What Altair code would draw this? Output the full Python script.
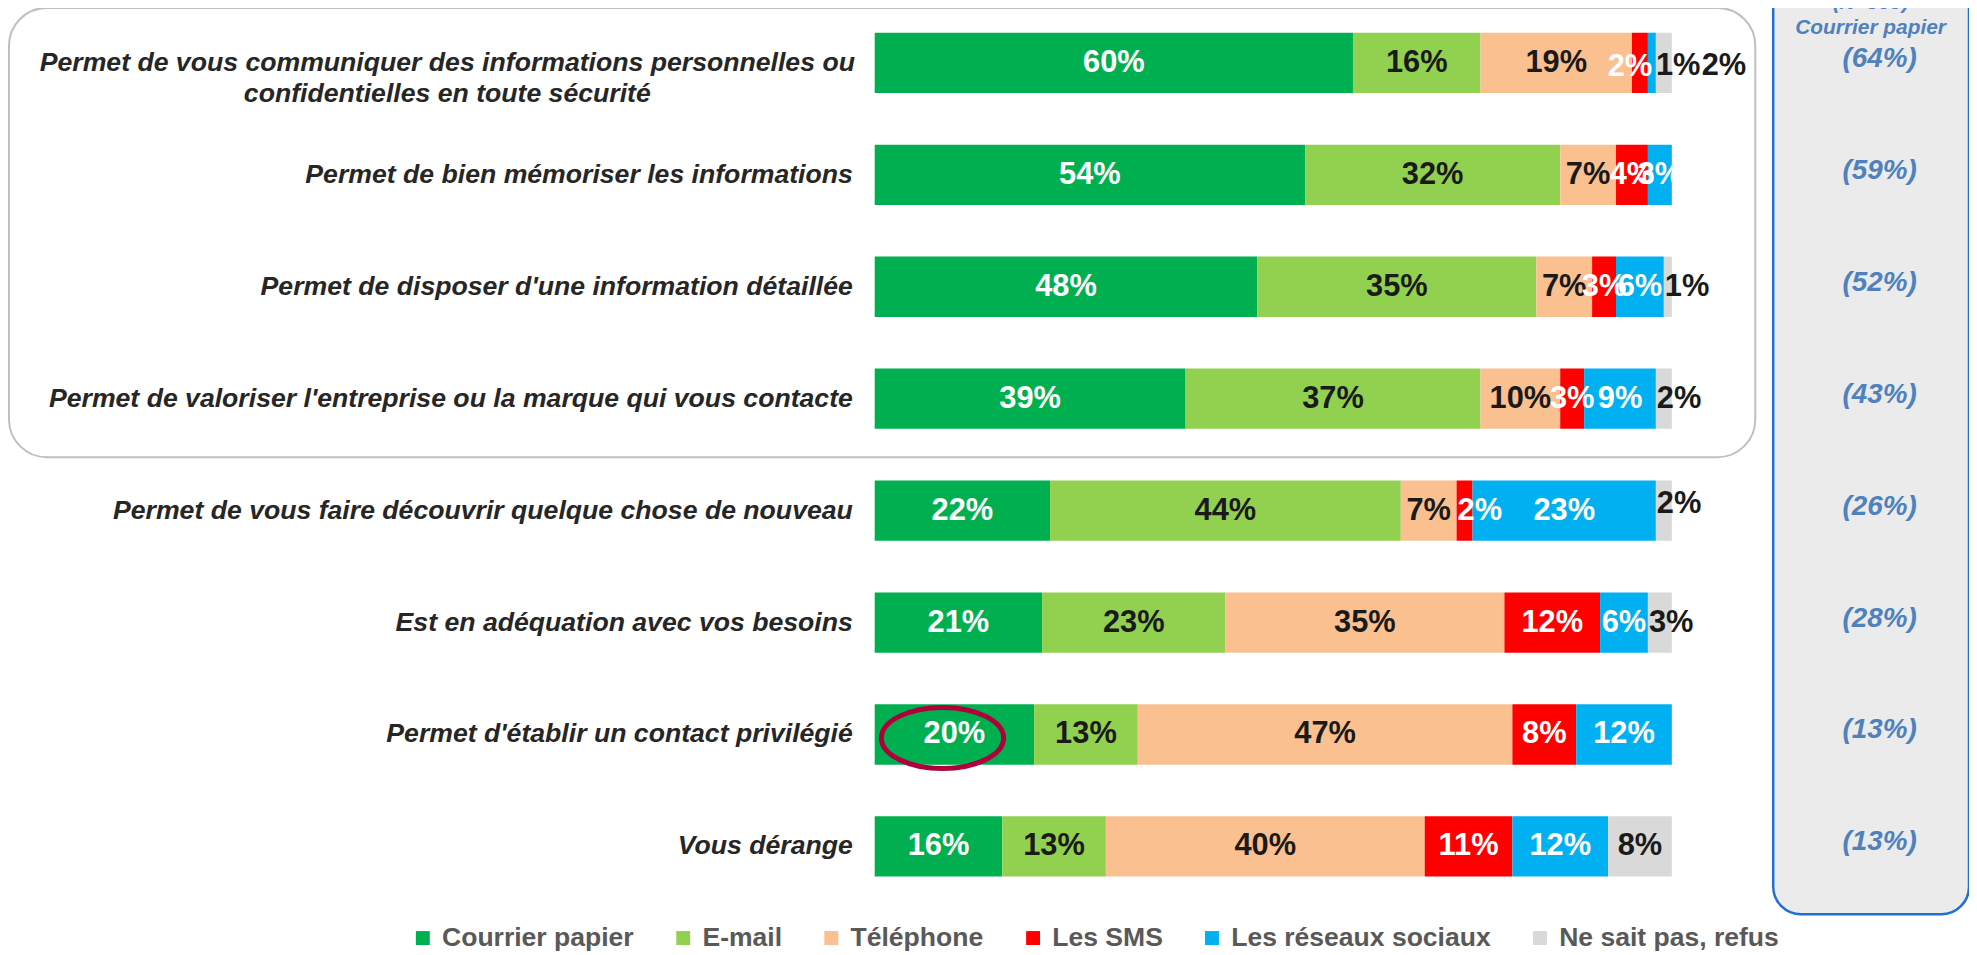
import altair as alt
import pandas as pd

# ---------------- data ----------------
items = [
    "Permet de vous communiquer des informations personnelles ou\nconfidentielles en toute sécurité",
    "Permet de bien mémoriser les informations",
    "Permet de disposer d'une information détaillée",
    "Permet de valoriser l'entreprise ou la marque qui vous contacte",
    "Permet de vous faire découvrir quelque chose de nouveau",
    "Est en adéquation avec vos besoins",
    "Permet d'établir un contact privilégié",
    "Vous dérange",
]
categories = ["Courrier papier", "E-mail", "Téléphone", "Les SMS",
              "Les réseaux sociaux", "Ne sait pas, refus"]
courrier = [60, 54, 48, 39, 22, 21, 20, 16]
email = [16, 32, 35, 37, 44, 23, 13, 13]
telephone = [19, 7, 7, 10, 7, 35, 47, 40]
sms = [2, 4, 3, 3, 2, 12, 8, 11]
reseaux = [1, 3, 6, 9, 23, 6, 12, 12]
nsp = [2, 0, 1, 2, 2, 3, 0, 8]
panel_values = [64, 59, 52, 43, 26, 28, 13, 13]
panel_header = "(N=800)"
panel_title = "Courrier papier"

# ---------------- style ----------------
bar_colors = ["#00B050", "#92D050", "#FAC090", "#FF0000", "#00B0F0", "#D9D9D9"]
FONT = "Liberation Sans"

series = [courrier, email, telephone, sms, reseaux, nsp]
rows = []
for ci, (cat, vals) in enumerate(zip(categories, series)):
    for ii, (item, v) in enumerate(zip(items, vals)):
        if v > 0:
            rows.append({"item": item, "item_idx": ii, "cat": cat,
                         "cat_idx": ci, "value": v, "label": f"{v}%"})
df = pd.DataFrame(rows)
items_df = pd.DataFrame({"item": items, "item_idx": list(range(len(items))),
                         "panel": [f"({v}%)" for v in panel_values]})
one = pd.DataFrame({"k": [0]})

Y = alt.Y("item:N", scale=alt.Scale(domain=items, paddingInner=0.4608,
                                    paddingOuter=0.195), axis=None)
XS = alt.Scale(domain=[0, 100], nice=False, zero=True)

base = (alt.Chart(df)
        .transform_stack(stack="value", groupby=["item"], as_=["x0", "x1"],
                         sort=[alt.SortField("cat_idx", order="ascending")])
        .transform_calculate(
            mid="(datum.x0 + datum.x1) / 2",
            lc="indexof([0, 3, 4], datum.cat_idx) >= 0 ? '#FFFFFF' : '#1A1A1A'"))

bars = base.mark_bar().encode(
    y=Y,
    x=alt.X("x0:Q", scale=XS, axis=None),
    x2="x1:Q",
    color=alt.Color("cat:N", scale=alt.Scale(domain=categories, range=bar_colors),
                    legend=alt.Legend(orient="none", legendX=-468, legendY=919,
                                      direction="horizontal", title=None,
                                      symbolType="square", symbolSize=196,
                                      symbolStrokeWidth=0, labelFont=FONT,
                                      labelFontSize=26.7, labelFontWeight="bold",
                                      labelColor="#595959", labelOffset=6,
                                      columnPadding=36, labelLimit=0, padding=0)),
)


def value_labels(cond, xfield, align, dx=0, dy=0, color=None):
    enc = dict(y=Y, x=alt.X(f"{xfield}:Q", scale=XS, axis=None), text="label:N")
    enc["color"] = alt.value(color) if color else alt.Color("lc:N", scale=None)
    return (base.transform_filter(cond)
            .mark_text(align=align, baseline="middle", dx=dx, dy=dy, font=FONT,
                       fontSize=31, fontWeight="bold")
            .encode(**enc))


center_cond = ("!(datum.item_idx == 0 && datum.cat_idx >= 3) && "
               "!(datum.cat_idx == 5 && datum.item_idx >= 2 && datum.item_idx <= 5) && "
               "!(datum.item_idx == 4 && datum.cat_idx == 3)")
labels = [
    value_labels(center_cond, "mid", "center"),
    value_labels("(datum.cat_idx == 5 && (datum.item_idx == 2 || datum.item_idx == 3 || datum.item_idx == 5))"
                 " || (datum.item_idx == 4 && datum.cat_idx == 3)", "x0", "left", dx=1),
    value_labels("datum.cat_idx == 5 && datum.item_idx == 4", "x0", "left", dx=1, dy=-7),
    value_labels("datum.item_idx == 0 && datum.cat_idx == 3", "mid", "center", dx=-10, dy=4),
    value_labels("datum.item_idx == 0 && datum.cat_idx == 4", "x1", "left", dy=3, color="#1A1A1A"),
    value_labels("datum.item_idx == 0 && datum.cat_idx == 5", "x1", "left", dx=30, dy=3),
]

left_first = (alt.Chart(items_df).transform_filter("datum.item_idx == 0")
              .mark_text(align="center", baseline="middle", lineBreak="\n", lineHeight=31,
                         font=FONT, fontSize=26.8, fontStyle="italic", fontWeight="bold",
                         color="#262626")
              .encode(y=Y, x=alt.value(-430), text="item:N"))
left_rest = (alt.Chart(items_df).transform_filter("datum.item_idx > 0")
             .mark_text(align="right", baseline="middle", font=FONT, fontSize=26.8,
                        fontStyle="italic", fontWeight="bold", color="#262626")
             .encode(y=Y, x=alt.value(-22), text="item:N"))

panel_box = alt.Chart(one).mark_rect(
    fill="#EBEBEB", stroke="#1F6FD0", strokeWidth=2.5, cornerRadius=28
).encode(x=alt.value(904), x2=alt.value(1101), y=alt.value(-40), y2=alt.value(909))

group_box = alt.Chart(one).mark_rect(
    fillOpacity=0, stroke="#BFBFBF", strokeWidth=2, cornerRadius=38
).encode(x=alt.value(-871), x2=alt.value(886), y=alt.value(-3), y2=alt.value(449))

panel_head = alt.Chart(pd.DataFrame({"t": [panel_header]})).mark_text(
    align="center", baseline="middle", font=FONT, fontSize=21, fontStyle="italic",
    fontWeight="bold", color="#4F81BD"
).encode(x=alt.value(1002), y=alt.value(-8), text="t:N")
panel_sub = alt.Chart(pd.DataFrame({"t": [panel_title]})).mark_text(
    align="center", baseline="middle", font=FONT, fontSize=21, fontStyle="italic",
    fontWeight="bold", color="#4F81BD"
).encode(x=alt.value(1002), y=alt.value(17), text="t:N")
panel_pct = alt.Chart(items_df).mark_text(
    align="center", baseline="middle", font=FONT, fontSize=28, fontStyle="italic",
    fontWeight="bold", color="#4F81BD", dy=-4
).encode(y=Y, x=alt.value(1011), text="panel:N")

ellipse_path = ("M -1 0 C -1 -0.2762 -0.5523 -0.5 0 -0.5 C 0.5523 -0.5 1 -0.2762 1 0 "
                "C 1 0.2762 0.5523 0.5 0 0.5 C -0.5523 0.5 -1 0.2762 -1 0 Z")
ellipse = (base.transform_filter("datum.item_idx == 6 && datum.cat_idx == 0")
           .mark_point(shape=ellipse_path, size=15129, filled=False, color="#B0003A",
                       strokeWidth=5, opacity=1, xOffset=-12, yOffset=3.5)
           .encode(y=Y, x=alt.X("mid:Q", scale=XS, axis=None)))

chart = alt.layer(
    panel_box, group_box, bars, *labels, left_first, left_rest,
    panel_head, panel_sub, panel_pct, ellipse
).properties(
    width=802, height=893,
    padding={"left": 872, "top": 0, "right": 299, "bottom": 54},
    autosize=alt.AutoSizeParams(type="none"),
    background="#FFFFFF",
).configure_view(stroke="transparent")

chart.save("out.html", embed_options={"renderer": "svg", "actions": False})
